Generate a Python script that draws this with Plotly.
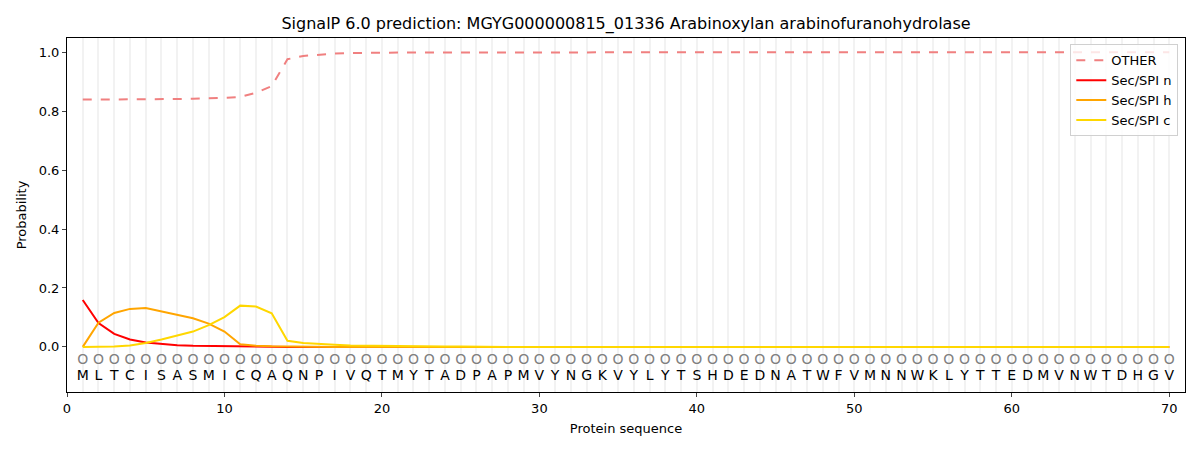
import plotly.graph_objects as go

sequence = list("MLTCISASMICQAQNPIVQTMYTADPAPMVYNGKVYLYTSHDEDNATWFVMNNWKLYTTEDMVNWTDHGV")
positions = list(range(1, len(sequence) + 1))

other = [0.839, 0.839, 0.839, 0.839, 0.840, 0.840, 0.841, 0.842, 0.843, 0.845,
         0.848, 0.862, 0.885, 0.976, 0.987, 0.992, 0.995, 0.997, 0.998, 0.998,
         0.999, 0.999, 0.999, 0.999] + [1.0] * 46
sec_n = [0.159, 0.081, 0.044, 0.025, 0.015, 0.010, 0.006, 0.004, 0.003, 0.002,
         0.001, 0.001, 0.001] + [0.0] * 57
sec_h = [0.0, 0.082, 0.115, 0.129, 0.132, 0.121, 0.110, 0.097, 0.079, 0.052,
         0.009, 0.004, 0.002, 0.001, 0.001] + [0.0] * 55
sec_c = [0.0, 0.0, 0.001, 0.005, 0.013, 0.025, 0.038, 0.052, 0.074, 0.101,
         0.140, 0.137, 0.114, 0.021, 0.013, 0.009, 0.007, 0.005, 0.004, 0.003,
         0.002, 0.002, 0.001, 0.001, 0.001] + [0.0] * 45

font = "DejaVu Sans"

fig = go.Figure()
fig.add_trace(go.Scatter(x=positions, y=other, mode="lines", name="OTHER",
                         line=dict(color="#f08080", width=2, dash="dash")))
fig.add_trace(go.Scatter(x=positions, y=sec_n, mode="lines", name="Sec/SPI n",
                         line=dict(color="red", width=2)))
fig.add_trace(go.Scatter(x=positions, y=sec_h, mode="lines", name="Sec/SPI h",
                         line=dict(color="orange", width=2)))
fig.add_trace(go.Scatter(x=positions, y=sec_c, mode="lines", name="Sec/SPI c",
                         line=dict(color="gold", width=2)))

# residue markers and letters under the curves
fig.add_trace(go.Scatter(x=positions, y=[-0.047] * len(positions), mode="text",
                         text=["O"] * len(positions), showlegend=False, hoverinfo="skip",
                         textfont=dict(family=font, size=14, color="grey")))
fig.add_trace(go.Scatter(x=positions, y=[-0.1] * len(positions), mode="text",
                         text=sequence, showlegend=False, hoverinfo="skip",
                         textfont=dict(family=font, size=14, color="black")))

# the page body adds an 8px offset, so the figure is shrunk to fit the window
fig.update_layout(
    width=1192, height=442,
    margin=dict(l=59, r=15, t=30, b=58),
    plot_bgcolor="white", paper_bgcolor="white",
    font=dict(family=font, size=13, color="black"),
    title=dict(text="SignalP 6.0 prediction: MGYG000000815_01336 Arabinoxylan arabinofuranohydrolase",
               xref="paper", x=0.5, xanchor="center", y=0.966, yanchor="middle",
               font=dict(family=font, size=16)),
    legend=dict(x=0.994, xanchor="right", y=0.982, yanchor="top",
                bgcolor="rgba(255,255,255,0.8)", bordercolor="#d0d0d0", borderwidth=1,
                font=dict(family=font, size=13)),
    xaxis=dict(range=[0, 71], tickvals=list(range(0, 71, 10)), automargin=False,
               title=dict(text="Protein sequence", font=dict(size=13), standoff=9),
               showline=True, mirror=True, linecolor="black", linewidth=1,
               ticks="outside", ticklen=4, zeroline=False,
               showgrid=False,
               minor=dict(tickvals=positions, showgrid=True, gridcolor="#f2f2f2", gridwidth=1.5, ticks="")),
    yaxis=dict(range=[-0.153, 1.048], tickvals=[0, 0.2, 0.4, 0.6, 0.8, 1.0], tickformat=".1f",
               automargin=False,
               title=dict(text="Probability", font=dict(size=13), standoff=9),
               showline=True, mirror=True, linecolor="black", linewidth=1,
               ticks="outside", ticklen=4, zeroline=False, showgrid=False),
)

fig.write_html("out.html")
